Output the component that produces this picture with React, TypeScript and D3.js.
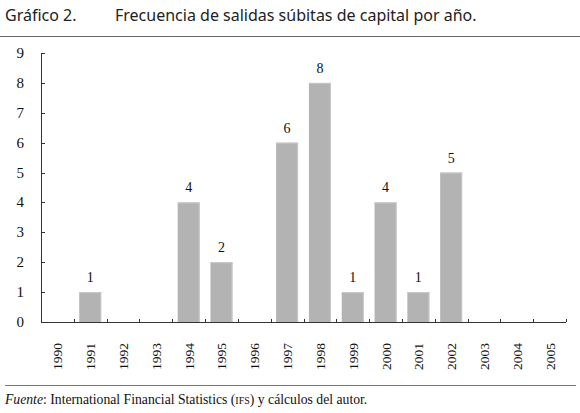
import React from "react";
import * as d3 from "d3";

const years = ["1990","1991","1992","1993","1994","1995","1996","1997","1998","1999","2000","2001","2002","2003","2004","2005"];
const counts = [0,1,0,0,4,2,0,6,8,1,4,1,5,0,0,0];
const yTicks = [0,1,2,3,4,5,6,7,8,9];

export default function App() {
  const W = 580, H = 413;
  const x0 = 41, x1 = 566, yTop = 53, yBot = 322;
  const x = d3.scaleBand<string>().domain(years).range([x0, x1]).paddingInner(0.33).paddingOuter(0.165);
  const xb = d3.scaleBand<string>().domain(years).range([x0, x1]);
  const y = d3.scaleLinear().domain([0, 9]).range([yBot, yTop]);
  const serif = "'Liberation Serif', 'Times New Roman', serif";
  const sans = "'Noto Sans', Lato, sans-serif";
  return (
    <div>
      <style>{`html,body{margin:0;padding:0;overflow:hidden}`}</style>
      <svg width={W} height={H} style={{ display: "block", position: "absolute", left: 0, top: 0, background: "#fff" }}>
        <text x={5} y={21} fontFamily={sans} fontSize={16} fill="#222">Gráfico 2.</text>
        <text x={115} y={21} fontFamily={sans} fontSize={16} fill="#222">Frecuencia de salidas súbitas de capital por año.</text>
        <line x1={0} x2={580} y1={36.5} y2={36.5} stroke="#666" strokeWidth={1} />
        {years.map((yr, i) => counts[i] > 0 ? (
          <g key={yr}>
            <rect x={x(yr)!} y={y(counts[i])} width={x.bandwidth()} height={yBot - y(counts[i])} fill="#b3b3b3" />
            <line x1={x(yr)! + x.bandwidth() - 0.5} x2={x(yr)! + x.bandwidth() - 0.5} y1={y(counts[i])} y2={yBot} stroke="#c8c8c8" />
            <line x1={x(yr)!} x2={x(yr)! + x.bandwidth()} y1={y(counts[i]) + 0.5} y2={y(counts[i]) + 0.5} stroke="#c8c8c8" />
            <text x={x(yr)! + x.bandwidth() / 2} y={y(counts[i]) - 10} textAnchor="middle" fontFamily={serif} fontSize={14} fill="#111">{counts[i]}</text>
          </g>
        ) : null)}
        <line x1={x0 + 0.5} x2={x0 + 0.5} y1={yTop} y2={yBot} stroke="#333" />
        <line x1={x0} x2={x1} y1={yBot + 0.5} y2={yBot + 0.5} stroke="#333" />
        {yTicks.map(t => (
          <g key={t}>
            <line x1={x0} x2={x0 + 4} y1={Math.round(y(t)) + 0.5} y2={Math.round(y(t)) + 0.5} stroke="#333" />
            <text x={24} y={y(t) + 5} textAnchor="end" fontFamily={serif} fontSize={15} fill="#111">{t}</text>
          </g>
        ))}
        {years.map(yr => (
          <line key={"t" + yr} x1={Math.round(xb(yr)! + xb.bandwidth()) + 0.5} x2={Math.round(xb(yr)! + xb.bandwidth()) + 0.5} y1={yBot - 3} y2={yBot} stroke="#333" />
        ))}
        {years.map(yr => {
          const cx = xb(yr)! + xb.bandwidth() / 2;
          return (
            <text key={"l" + yr} transform={`translate(${cx + 5},343) rotate(-90)`} textAnchor="end" fontFamily={serif} fontSize={13.5} fill="#111">{yr}</text>
          );
        })}
        <line x1={5} x2={576} y1={385.5} y2={385.5} stroke="#777" strokeWidth={1} />
        <text x={5} y={404} fontFamily={serif} fontSize={13.7} fill="#111">
          <tspan fontStyle="italic">Fuente</tspan>: International Financial Statistics (<tspan fontSize={10}>IFS</tspan>) y cálculos del autor.
        </text>
      </svg>
    </div>
  );
}
